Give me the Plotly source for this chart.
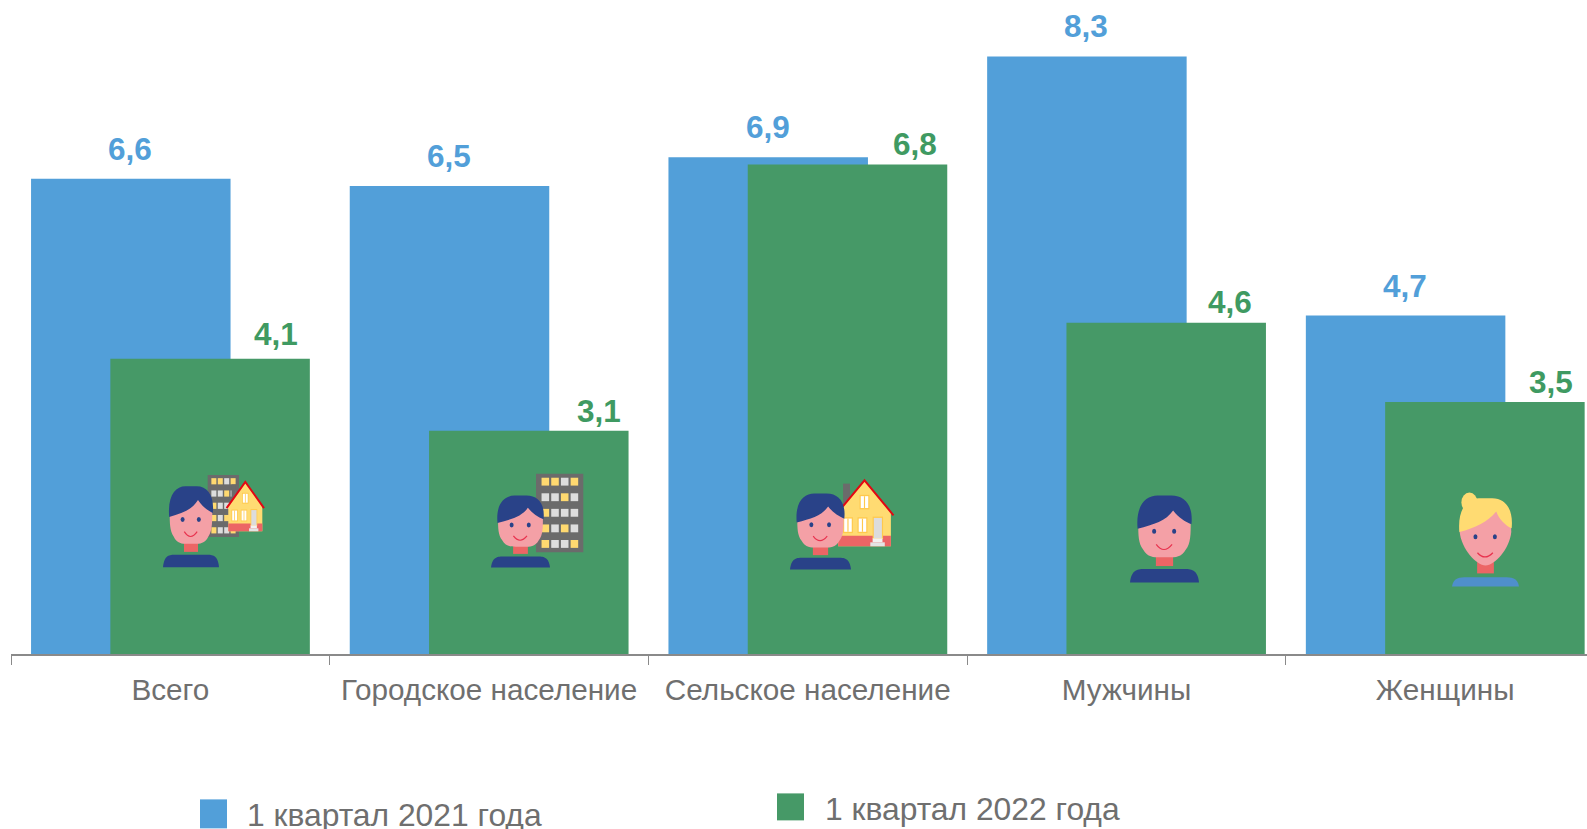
import plotly.graph_objects as go

categories = ["Всего", "Городское население", "Сельское население", "Мужчины", "Женщины"]
values_2021 = [6.6, 6.5, 6.9, 8.3, 4.7]
values_2022 = [4.1, 3.1, 6.8, 4.6, 3.5]
name_2021 = "1 квартал 2021 года"
name_2022 = "1 квартал 2022 года"

BLUE = "#529FD9"
GREEN = "#469967"
GREEN_TXT = "#3F9A62"
GREY = "#6F6F6F"
FONT = "Liberation Sans"

W, H = 1587, 829
L, AXIS_Y = 11, 654.5
GROUP = 318.7
Y_PER_UNIT = 72.05

# offsets of the value labels from the top of their bars
x_shift_2021 = [0, 0, 0, 0, 0]
y_shift_2021 = [30, 30, 30, 30, 30]
x_shift_2022 = [66, 70, 68, 64, 66]
y_shift_2022 = [25, 20, 20, 21, 20]


def px(x):
    return (x - L) / (W - L)


def py(y):
    return (AXIS_Y - y) / AXIS_Y


shapes = []


def add_path(d_points, fill=None, line=None, lw=0):
    """d_points: list of (cmd, pts...) in page pixels."""
    s = ""
    for seg in d_points:
        cmd = seg[0]
        s += cmd
        s += " ".join(f"{px(p[0]):.5f},{py(p[1]):.5f}" for p in seg[1:]) + " "
    closed = fill is not None
    if closed:
        s += "Z"
    shapes.append(dict(type="path", xref="paper", yref="paper", path=s, layer="above",
                       fillcolor=fill if fill else "rgba(0,0,0,0)",
                       line=dict(color=line if line else "rgba(0,0,0,0)", width=lw)))


def add_rect(x0, y0, x1, y1, fill):
    shapes.append(dict(type="rect", xref="paper", yref="paper", layer="above",
                       x0=px(x0), x1=px(x1), y0=py(y0), y1=py(y1),
                       fillcolor=fill, line=dict(width=0)))


def add_ellipse(cx, cy, rx, ry, fill):
    shapes.append(dict(type="circle", xref="paper", yref="paper", layer="above",
                       x0=px(cx - rx), x1=px(cx + rx), y0=py(cy - ry), y1=py(cy + ry),
                       fillcolor=fill, line=dict(width=0)))


def person(cx, top, w, h, woman=False):
    T = lambda u, v: (cx + u * w, top + v * h)
    hair = "#FFDB72" if woman else "#294288"
    body = "#4F8FCB" if woman else "#294288"
    face = "#F4A0A6"
    neck = "#EC6565"
    if woman:
        add_ellipse(*T(-0.24, 0.105), 0.12 * w, 0.105 * h, hair)
        neck_v, body_v, chin, eye_v, s0, s1 = (0.74, 0.86), 0.9, 0.776, 0.47, 0.64, 0.70
        hv0, hv1, pk, pu, ht = 0.42, 0.38, 0.2, 0.16, 0.06
    else:
        neck_v, body_v, chin, eye_v, s0, s1 = (0.68, 0.81), 0.845, 0.71, 0.41, 0.56, 0.65
        hv0, hv1, pk, pu, ht = 0.38, 0.33, 0.17, 0.125, 0.0
    add_rect(*T(-0.125, neck_v[0]), *T(0.125, neck_v[1]), neck)
    add_path([("M", T(-0.5, 1)), ("C", T(-0.48, body_v), T(-0.38, body_v), T(-0.28, body_v)),
              ("L", T(0.28, body_v)), ("C", T(0.38, body_v), T(0.48, body_v), T(0.5, 1))], fill=body)
    top_v = pk - 0.03
    if woman:
        add_path([("M", T(-0.15, top_v)), ("L", T(-0.38, 0.35)), ("L", T(-0.385, 0.42)),
                  ("C", T(-0.36, 0.6), T(-0.14, chin), T(0, chin)),
                  ("C", T(0.14, chin), T(0.36, 0.6), T(0.385, 0.42)), ("L", T(0.38, 0.33)),
                  ("L", T(0.15, top_v))], fill=face)
    else:
        add_path([("M", T(-0.15, top_v)), ("L", T(-0.38, 0.33)), ("C", T(-0.38, 0.45), T(-0.38, 0.55), T(-0.31, 0.62)),
                  ("C", T(-0.25, chin), T(-0.15, chin), T(-0.08, chin)), ("L", T(0.08, chin)),
                  ("C", T(0.15, chin), T(0.25, chin), T(0.31, 0.62)),
                  ("C", T(0.38, 0.55), T(0.38, 0.45), T(0.38, 0.28)), ("L", T(0.15, top_v))], fill=face)
    add_path([("M", T(-0.39, hv0)), ("C", T(-0.42, 0.12 + ht), T(-0.28, ht), T(-0.1, ht)),
              ("L", T(0.1, ht)), ("C", T(0.3, ht), T(0.42, 0.12 + ht), T(0.39, hv1)),
              ("C", T(0.3, hv1 - 0.03), T(0.2, pk + 0.08), T(pu, pk)),
              ("C", T(0.02, pk + 0.12), T(-0.15, hv0 - 0.05), T(-0.39, hv0))], fill=hair)
    er = max(2.0, 0.03 * w)
    add_ellipse(*T(-0.15, eye_v), er, er * 1.25, "#294288")
    add_ellipse(*T(0.14, eye_v), er, er * 1.25, "#294288")
    add_path([("M", T(-0.12, s0)), ("Q", T(-0.01, s1 + 0.03), T(0.11, s0))], line="#E8324E", lw=1.2)


def building(x0, y0, x1, y1):
    add_rect(x0, y0, x1, y1, "#6B6B6B")
    on = "#FFD970"
    off = "#DDDDDD"
    grid = [[on, on, off, on], [off, off, on, off], [on, off, off, off],
            [on, off, on, off], [on, off, off, on]]
    w, h = x1 - x0, y1 - y0
    for r, row in enumerate(grid):
        for c, col in enumerate(row):
            cx = x0 + w * (0.197 + c * 0.205)
            cy = y0 + h * (0.102 + r * 0.198)
            add_rect(cx - 0.08 * w, cy - 0.05 * h, cx + 0.08 * w, cy + 0.05 * h, col)


def house(cx, top, half, h):
    T = lambda u, v: (cx + u * half, top + v * h)
    add_rect(*T(-0.74, 0.05), *T(-0.5, 0.4), "#6B6B6B")
    add_path([("M", T(-0.91, 1)), ("L", T(-0.91, 0.48)), ("L", T(0, 0.0)),
              ("L", T(0.91, 0.48)), ("L", T(0.91, 1))], fill="#FFDB72")
    add_rect(*T(-0.91, 0.84), *T(0.91, 1), "#EC6565")
    white = "#FFFFFF"
    frame = "#FFC94D"
    for u0, u1, v0, v1 in [(-0.13, 0.13, 0.24, 0.42), (-0.7, -0.44, 0.58, 0.78), (-0.2, 0.06, 0.58, 0.78)]:
        add_rect(*T(u0 - 0.04, v0 - 0.02), *T(u1 + 0.04, v1 + 0.02), frame)
        add_rect(*T(u0, v0), *T(u1, v1), white)
        add_rect(*T((u0 + u1) / 2 - 0.02, v0), *T((u0 + u1) / 2 + 0.02, v1), frame)
    add_rect(*T(0.28, 0.55), *T(0.64, 0.89), frame)
    add_rect(*T(0.32, 0.57), *T(0.6, 0.88), "#DCDCDC")
    add_rect(*T(0.28, 0.88), *T(0.62, 0.94), "#F2F2F2")
    add_rect(*T(0.2, 0.94), *T(0.7, 1.0), "#E4E4E4")
    add_path([("M", T(-1, 0.53)), ("L", T(0, 0.0)), ("L", T(1, 0.53))], line="#E30613", lw=2)


# icon 1: total
building(207.7, 475.3, 239, 537.3)
house(245.3, 482.3, 18.7, 49.4)
person(191, 486.7, 56, 81)
# icon 2: urban
building(536, 474, 583.3, 552.7)
person(520.5, 496, 59, 72)
# icon 3: rural
house(864.5, 480.7, 29, 66)
person(820.5, 494, 61, 76)
# icon 4: men
person(1164.5, 496, 69, 87)
# icon 5: women
person(1485.5, 493, 67, 94, woman=True)

# legend swatches
add_rect(200, 800, 227, 829, BLUE)
add_rect(777, 794, 804, 821, GREEN)

fig = go.Figure()
bar_w = 199.5 / GROUP
fig.add_bar(x=categories, y=values_2021, name=name_2021, marker=dict(color=BLUE, line=dict(width=0)),
            width=bar_w, offset=-139.3 / GROUP)
fig.add_bar(x=categories, y=values_2022, name=name_2022, marker=dict(color=GREEN, line=dict(width=0)),
            width=bar_w, offset=-60 / GROUP)

annotations = []
fmt = lambda v: f"{v:.1f}".replace(".", ",")
for i, cat in enumerate(categories):
    annotations.append(dict(x=cat, y=values_2021[i], xref="x", yref="y", text=fmt(values_2021[i]),
                            showarrow=False, xanchor="center", yanchor="middle",
                            xshift=-40 + x_shift_2021[i], yshift=y_shift_2021[i],
                            font=dict(family=FONT, size=31.5, color=BLUE, weight="bold")))
    annotations.append(dict(x=cat, y=values_2022[i], xref="x", yref="y", text=fmt(values_2022[i]),
                            showarrow=False, xanchor="center", yanchor="middle",
                            xshift=39.6 + x_shift_2022[i], yshift=y_shift_2022[i],
                            font=dict(family=FONT, size=31.5, color=GREEN_TXT, weight="bold")))

annotations.append(dict(xref="paper", yref="paper", x=px(245), y=py(815.5), text=name_2021, showarrow=False,
                        xanchor="left", yanchor="middle", font=dict(family=FONT, size=31.8, color=GREY)))
annotations.append(dict(xref="paper", yref="paper", x=px(822.5), y=py(810), text=name_2022, showarrow=False,
                        xanchor="left", yanchor="middle", font=dict(family=FONT, size=31.8, color=GREY)))

fig.update_layout(
    width=W, height=H, margin=dict(l=L, r=0, t=0, b=H - AXIS_Y, pad=0, autoexpand=False),
    paper_bgcolor="white", plot_bgcolor="white", barmode="overlay", showlegend=False,
    shapes=shapes, annotations=annotations, font=dict(family=FONT, color=GREY),
    xaxis=dict(type="category", categoryorder="array", categoryarray=categories,
               range=[-0.5, (W - L) / GROUP - 0.5], tickson="boundaries", ticks="outside", ticklen=9,
               tickwidth=1, tickcolor="#8A8A8A", showline=True, linecolor="#8A8A8A", linewidth=2,
               showgrid=False, zeroline=False, tickangle=0, ticklabelstandoff=8,
               tickfont=dict(family=FONT, size=29.7, color=GREY)),
    yaxis=dict(range=[0, AXIS_Y / Y_PER_UNIT], visible=False, showgrid=False, zeroline=False),
)

fig.write_html("out.html", config=dict(displayModeBar=False),
               post_script="document.body.style.margin='0';document.body.style.overflow='hidden';")
